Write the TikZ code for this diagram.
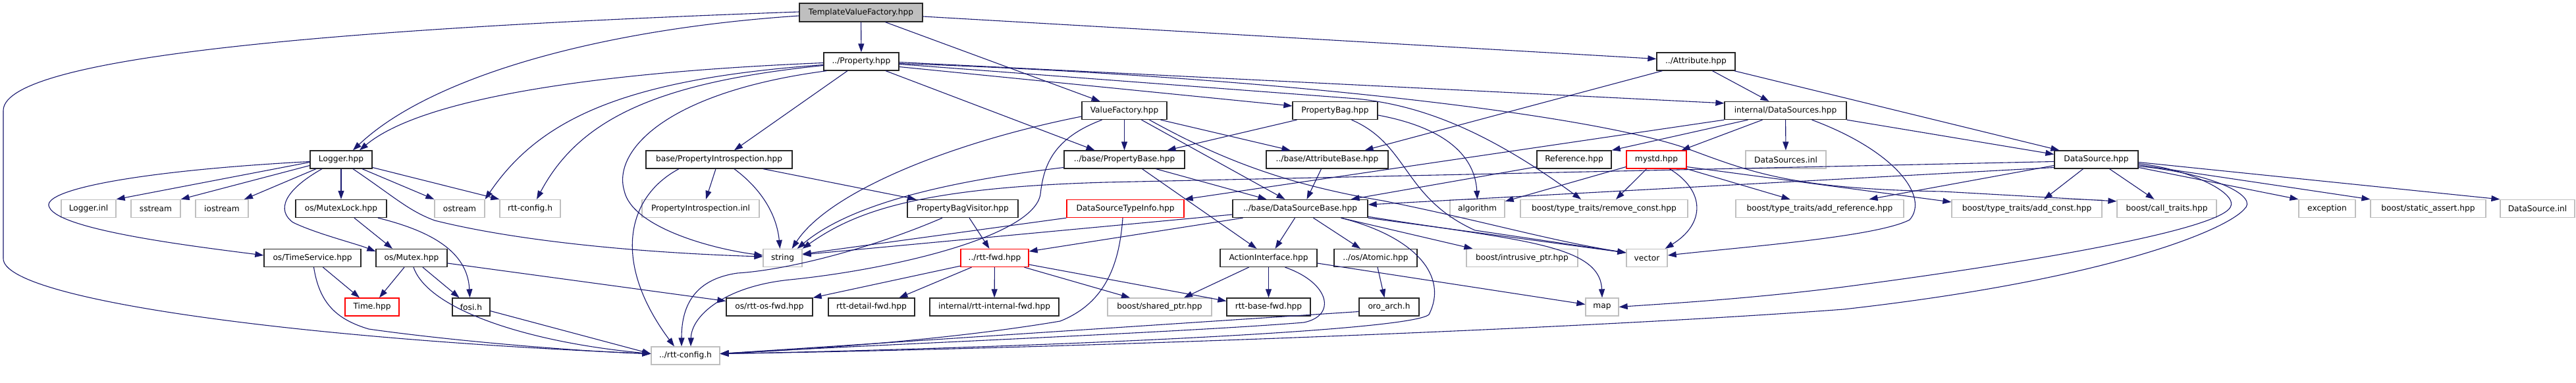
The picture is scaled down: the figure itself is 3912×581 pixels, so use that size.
\documentclass[tikz,border=0pt]{standalone}
\usepackage{fontspec}
\setmainfont{DejaVu Sans}
\usetikzlibrary{arrows.meta}
\definecolor{edgec}{HTML}{191970}
\definecolor{grayb}{HTML}{BFBFBF}
\newcommand{\nb}[6]{\node[#1,minimum width={#4-#3}] (#2) at ({(#3+#4)/2},#5) {#6};}
\begin{document}
\begin{tikzpicture}[x=1pt,y=-1pt,
  nbox/.style={draw=black!85,fill=white,line width=1.3pt,minimum height=27pt,inner sep=0pt,font=\fontsize{12.2}{14}\selectfont},
  xbox/.style={nbox,draw=grayb},
  rbox/.style={nbox,draw=red},
  dep/.style={draw=edgec,line width=1.1pt,-{Triangle[length=13pt,width=9pt]}}]
\useasboundingbox[fill=white] (0,0) rectangle (3912,581);
% row 0-2
\nb{nbox,fill=grayb,minimum height=28pt}{tvf}{1214}{1401}{19}{TemplateValueFactory.hpp}
\nb{nbox}{prop}{1251}{1365}{93.5}{../Property.hpp}
\nb{nbox}{attr}{2516}{2635}{93.5}{../Attribute.hpp}
\nb{nbox}{vf}{1643}{1772}{168}{ValueFactory.hpp}
\nb{nbox}{pbag}{1963}{2092}{168}{PropertyBag.hpp}
\nb{nbox}{dss}{2619}{2804}{168}{internal/DataSources.hpp}
% row 3
\nb{nbox}{logger}{471}{565}{242.5}{Logger.hpp}
\nb{nbox}{pintro}{981}{1203}{242.5}{base/PropertyIntrospection.hpp}
\nb{nbox}{pbase}{1616}{1799}{242.5}{../base/PropertyBase.hpp}
\nb{nbox}{abase}{1923}{2108}{242.5}{../base/AttributeBase.hpp}
\nb{nbox}{ref}{2334}{2447}{242.5}{Reference.hpp}
\nb{rbox}{mystd}{2470}{2561}{242.5}{mystd.hpp}
\nb{xbox}{dsinl}{2651}{2773}{242.5}{DataSources.inl}
\nb{nbox}{ds}{3120}{3247}{242.5}{DataSource.hpp}
% row 4
\nb{xbox}{loginl}{93}{176}{317}{Logger.inl}
\nb{xbox}{sstream}{199}{274}{317}{sstream}
\nb{xbox}{iostream}{297}{377}{317}{iostream}
\nb{nbox}{mlock}{449}{587}{317}{os/MutexLock.hpp}
\nb{xbox}{ostream}{660}{736}{317}{ostream}
\nb{xbox}{rttcfg}{759}{851}{317}{rtt-config.h}
\nb{xbox}{pintroinl}{975}{1153}{317}{PropertyIntrospection.inl}
\nb{nbox}{pbv}{1378}{1546}{317}{PropertyBagVisitor.hpp}
\nb{rbox}{dsti}{1620}{1798}{317}{DataSourceTypeInfo.hpp}
\nb{nbox}{dsb}{1872}{2077}{317}{../base/DataSourceBase.hpp}
\nb{xbox}{algo}{2202}{2285}{317}{algorithm}
\nb{xbox}{remc}{2309}{2563}{317}{boost/type\_traits/remove\_const.hpp}
\nb{xbox}{addref}{2636}{2891}{317}{boost/type\_traits/add\_reference.hpp}
\nb{xbox}{addc}{2964}{3192}{317}{boost/type\_traits/add\_const.hpp}
\nb{xbox}{callt}{3215}{3366}{317}{boost/call\_traits.hpp}
\nb{xbox}{exc}{3491}{3577}{317}{exception}
\nb{xbox}{sassert}{3600}{3775}{317}{boost/static\_assert.hpp}
\nb{xbox}{dsinlb}{3797}{3910}{317}{DataSource.inl}
% row 5
\nb{nbox}{tserv}{401}{548}{392}{os/TimeService.hpp}
\nb{nbox}{mutex}{571}{679}{392}{os/Mutex.hpp}
\nb{xbox}{string}{1159}{1218}{392}{string}
\nb{rbox}{rttfwd}{1459}{1562}{392}{../rtt-fwd.hpp}
\nb{nbox}{action}{1853}{2000}{392}{ActionInterface.hpp}
\nb{nbox}{atomic}{2026}{2152}{392}{../os/Atomic.hpp}
\nb{xbox}{iptr}{2227}{2396}{392}{boost/intrusive\_ptr.hpp}
\nb{xbox}{vector}{2470}{2532}{392}{vector}
% row 6
\nb{rbox}{time}{524}{606}{466.5}{Time.hpp}
\nb{nbox}{fosi}{687}{744}{466.5}{fosi.h}
\nb{nbox}{osfwd}{1103}{1234}{466.5}{os/rtt-os-fwd.hpp}
\nb{nbox}{detfwd}{1258}{1389}{466.5}{rtt-detail-fwd.hpp}
\nb{nbox}{intfwd}{1412}{1608}{466.5}{internal/rtt-internal-fwd.hpp}
\nb{xbox}{shptr}{1682}{1840}{466.5}{boost/shared\_ptr.hpp}
\nb{nbox}{basefwd}{1863}{1990}{466.5}{rtt-base-fwd.hpp}
\nb{nbox}{oroarch}{2064}{2155}{466.5}{oro\_arch.h}
\nb{xbox}{map}{2408}{2458}{466.5}{map}
% row 7
\nb{xbox}{cfg}{989}{1093}{540.5}{../rtt-config.h}

% ---- TemplateValueFactory
\draw[dep] (tvf) -- (prop);
\draw[dep] ([xshift=37pt]tvf.south) -- ([xshift=-37pt]vf.north);
\draw[dep] ([yshift=-6pt]tvf.east) -- ([yshift=4pt]attr.west);
\draw[dep] ([yshift=-5pt]tvf.west) .. controls (900,45) and (650,120) .. ([xshift=18pt]logger.north);
\draw[dep] ([yshift=1pt]tvf.west) .. controls (600,40) and (5,80) .. (5,168) -- (5,393) .. controls (5,455) and (450,515) .. ([yshift=3pt]cfg.west);
% ---- Property
\draw[dep] ([yshift=-2pt]prop.west) .. controls (900,110) and (640,150) .. ([xshift=28pt]logger.north);
\draw[dep] ([yshift=-5pt]prop.west) .. controls (950,120) and (820,180) .. (ostream.north east);
\draw[dep] ([yshift=-6pt]prop.west) .. controls (1000,125) and (880,180) .. ([xshift=10pt]rttcfg.north);
\draw[dep] ([xshift=5pt]prop.south west) .. controls (1010,140) and (930,230) .. (948,290) .. controls (960,345) and (1080,378) .. ([yshift=4pt]string.west);
\draw[dep] ([xshift=-21pt]prop.south) -- ([xshift=23pt]pintro.north);
\draw[dep] ([xshift=37pt]prop.south) -- ([xshift=-45pt]pbase.north);
\draw[dep] ([yshift=-8pt]prop.east) -- ([yshift=7pt]pbag.west);
\draw[dep] ([yshift=-1pt]prop.east) -- ([yshift=-3pt]dss.north west);
\draw[dep] ([yshift=-4pt]prop.east) -- (2060,150) .. controls (2160,160) and (2260,200) .. ([xshift=-35pt]remc.north);
\draw[dep] ([yshift=-3pt]prop.east) .. controls (1900,115) and (2400,170) .. (2560,225) .. controls (2660,262) and (2720,287) .. (2950,291) -- ([yshift=-3pt]callt.north west);
% ---- ValueFactory
\draw[dep] (vf) -- (pbase);
\draw[dep] ([xshift=55pt]vf.south) -- ([xshift=-56pt]abase.north);
\draw[dep] ([xshift=26pt]vf.south) -- ([xshift=-23pt]dsb.north);
\draw[dep] ([yshift=-9pt]vf.west) .. controls (1450,215) and (1260,290) .. ([xshift=-16pt]string.north east);
\draw[dep] ([xshift=38pt]vf.south) .. controls (1850,240) and (1950,280) .. (2100,305) .. controls (2250,335) and (2350,365) .. ([yshift=8pt]vector.west);
\draw[dep] ([xshift=-34pt]vf.south) .. controls (1600,210) and (1585,250) .. (1580,295) .. controls (1570,360) and (1350,410) .. (1200,425) .. controls (1100,435) and (1050,480) .. ([xshift=8pt]cfg.north);
% ---- PropertyBag
\draw[dep] ([xshift=-58pt]pbag.south) -- ([xshift=65pt]pbase.north);
\draw[dep] ([yshift=-7pt]pbag.east) .. controls (2200,195) and (2240,240) .. (algo.north);
\draw[dep] ([xshift=25pt]pbag.south) .. controls (2140,220) and (2130,300) .. (2240,350) -- ([yshift=8pt]vector.west);
% ---- Attribute
\draw[dep] ([xshift=-51pt]attr.south) -- ([xshift=57pt]abase.north);
\draw[dep] ([xshift=25pt]attr.south) -- ([xshift=-25pt]dss.north);
\draw[dep] ([xshift=-2pt]attr.south east) -- ([xshift=8pt]ds.north west);
% ---- internal/DataSources
\draw[dep] (dss) -- (dsinl);
\draw[dep] ([xshift=-35pt]dss.south) -- ([xshift=38pt]mystd.north);
\draw[dep] ([xshift=-57pt]dss.south) -- (ref.north east);
\draw[dep] (dss.south west) -- (dsti.north east);
\draw[dep] ([xshift=40pt]dss.south) .. controls (2880,230) and (2930,300) .. (2900,334) .. controls (2850,360) and (2650,375) .. ([yshift=4pt]vector.east);
\draw[dep] (dss.south east) -- ([yshift=8pt]ds.west);
% ---- Reference, mystd
\draw[dep] ([yshift=-11pt]ref.west) -- ([xshift=77pt]dsb.north);
\draw[dep] ([yshift=-11pt]mystd.west) -- ([yshift=11pt]algo.east);
\draw[dep] ([xshift=-15pt]mystd.south) -- ([xshift=18pt]remc.north);
\draw[dep] ([xshift=20pt]mystd.south) .. controls (2590,290) and (2590,340) .. ([xshift=-4pt]vector.north east);
\draw[dep] (mystd.south east) -- ([xshift=-45pt]addref.north);
\draw[dep] ([yshift=-11pt]mystd.east) -- ([yshift=10pt]addc.west);
% ---- DataSource
\draw[dep] ([yshift=-12pt]ds.west) -- ([yshift=6pt]dsb.east);
\draw[dep] ([yshift=-3pt]ds.west) -- (1680,277) .. controls (1400,285) and (1300,320) .. (string.north east);
\draw[dep] ([yshift=-9pt]ds.west) -- ([xshift=75pt]addref.north);
\draw[dep] ([xshift=-20pt]ds.south) -- ([xshift=26pt]addc.north);
\draw[dep] ([xshift=20pt]ds.south) -- ([xshift=-19pt]callt.north);
\draw[dep] ([yshift=-12pt]ds.east) -- (exc.north west);
\draw[dep] ([yshift=-8pt]ds.east) -- (sassert.north west);
\draw[dep] ([yshift=-4pt]ds.east) -- (dsinlb.north west);
\draw[dep] ([yshift=-6pt]ds.east) .. controls (3330,258) and (3400,295) .. (3387,315) .. controls (3370,345) and (3150,390) .. (2800,436) .. controls (2650,455) and (2520,462) .. (map.east);
\draw[dep] ([yshift=-10pt]ds.east) .. controls (3370,265) and (3430,300) .. (3408,318) .. controls (3380,350) and (3200,425) .. (2800,470) .. controls (2400,500) and (1600,530) .. ([yshift=3pt]cfg.east);
% ---- DataSourceBase
\draw[dep] ([yshift=-9pt]dsb.west) -- ([yshift=5pt]string.east);
\draw[dep] ([xshift=-87pt]dsb.south) -- ([yshift=10pt]rttfwd.east);
\draw[dep] ([xshift=-8pt]dsb.south) -- ([xshift=10pt]action.north);
\draw[dep] ([xshift=20pt]dsb.south) -- ([xshift=-23pt]atomic.north);
\draw[dep] ([xshift=62pt]dsb.south) -- ([xshift=10pt]iptr.north west);
\draw[dep] (dsb.south east) -- ([yshift=8pt]vector.west);
\draw[dep] ([yshift=2pt]dsb.south east) .. controls (2300,365) and (2430,370) .. (map.north);
\draw[dep] ([xshift=62pt]dsb.south) .. controls (2150,360) and (2200,420) .. (2170,478) .. controls (2140,505) and (1500,530) .. ([yshift=3pt]cfg.east);
% ---- PropertyBase, AttributeBase, DataSourceTypeInfo
\draw[dep] ([yshift=-12pt]pbase.west) .. controls (1400,280) and (1280,320) .. ([xshift=-8pt]string.north east);
\draw[dep] ([xshift=48pt]pbase.south) -- ([xshift=-51pt]dsb.north);
\draw[dep] ([xshift=27pt]pbase.south) -- ([xshift=-18pt]action.north);
\draw[dep] ([xshift=-9pt]abase.south) -- ([xshift=10pt]dsb.north);
\draw[dep] (dsti.south west) -- ([yshift=6pt]string.east);
\draw[dep] ([xshift=-4pt]dsti.south) .. controls (1700,400) and (1680,460) .. (1610,488) .. controls (1450,515) and (1250,530) .. ([yshift=3pt]cfg.east);
% ---- ActionInterface, Atomic, oro_arch
\draw[dep] ([xshift=-30pt]action.south) -- ([xshift=37pt]shptr.north);
\draw[dep] (action) -- (basefwd);
\draw[dep] ([xshift=25pt]action.south) .. controls (2020,430) and (2030,480) .. (1980,490) .. controls (1800,505) and (1300,525) .. ([yshift=3pt]cfg.east);
\draw[dep] ([yshift=-8pt]action.east) -- ([yshift=4pt]map.west);
\draw[dep] ([xshift=3pt]atomic.south) -- ([xshift=-7pt]oroarch.north);
\draw[dep] ([yshift=-7pt]oroarch.west) -- ([yshift=3pt]cfg.east);
% ---- rtt-fwd, PropertyBagVisitor, PropertyIntrospection
\draw[dep] ([yshift=2pt]rttfwd.south west) -- (osfwd.north east);
\draw[dep] ([xshift=-35pt]rttfwd.south) -- ([xshift=42pt]detfwd.north);
\draw[dep] (rttfwd) -- (intfwd);
\draw[dep] ([xshift=45pt]rttfwd.south) -- ([xshift=-45pt]shptr.north);
\draw[dep] ([yshift=-10pt]rttfwd.east) -- ([yshift=9pt]basefwd.west);
\draw[dep] ([xshift=10pt]pbv.south) -- ([xshift=-8pt]rttfwd.north);
\draw[dep] ([xshift=-31pt]pbv.south) .. controls (1330,375) and (1200,410) .. (1120,415) .. controls (1050,425) and (1035,470) .. ([xshift=-6pt]cfg.north);
\draw[dep] ([xshift=-5pt]pintro.south) -- ([xshift=8pt]pintroinl.north);
\draw[dep] ([xshift=23pt]pintro.south) .. controls (1160,290) and (1180,330) .. ([xshift=-4pt]string.north);
\draw[dep] ([xshift=67pt]pintro.south) -- ([xshift=-71pt]pbv.north);
\draw[dep] ([xshift=-61pt]pintro.south) .. controls (950,300) and (930,400) .. ([xshift=-17pt]cfg.north);
% ---- os
\draw[dep] ([xshift=17pt]mutex.south) -- ([xshift=-18pt]fosi.north);
\draw[dep] ([xshift=-11pt]mutex.south) -- ([xshift=11pt]time.north);
\draw[dep] ([xshift=3pt]mutex.south) .. controls (650,470) and (800,520) .. ([yshift=3pt]cfg.west);
\draw[dep] ([yshift=-8pt]mutex.east) -- ([yshift=9pt]osfwd.west);
\draw[dep] ([xshift=20pt]mlock.south) -- ([xshift=-29pt]mutex.north);
\draw[dep] ([xshift=56pt]mlock.south) .. controls (650,350) and (710,380) .. ([xshift=-2pt]fosi.north);
\draw[dep] ([xshift=16pt]tserv.south) -- ([xshift=-19pt]time.north);
\draw[dep] ([xshift=2pt]tserv.south) .. controls (485,460) and (510,485) .. (560,500) .. controls (700,520) and (900,535) .. ([yshift=3pt]cfg.west);
\draw[dep] ([yshift=-6pt]fosi.east) -- ([yshift=3pt]cfg.west);
% ---- Logger
\draw[dep] ([yshift=-4pt]logger.west) -- (loginl.north east);
\draw[dep] ([yshift=-9pt]logger.west) -- (sstream.north east);
\draw[dep] ([xshift=-38pt]logger.south) -- ([xshift=34pt]iostream.north);
\draw[dep] (logger) -- (mlock);
\draw[dep] ([yshift=-3pt]logger.west) .. controls (200,260) and (60,290) .. (75,315) .. controls (90,350) and (300,375) .. ([yshift=4pt]tserv.west);
\draw[dep] ([xshift=-29pt]logger.south) .. controls (430,290) and (420,320) .. (445,338) .. controls (480,355) and (540,370) .. ([yshift=10pt]mutex.west);
\draw[dep] ([xshift=18pt]logger.south) .. controls (600,300) and (620,320) .. (660,335) .. controls (800,370) and (1000,385) .. ([yshift=2pt]string.west);
\draw[dep] ([xshift=32pt]logger.south) -- (ostream.north west);
\draw[dep] ([yshift=-12pt]logger.east) -- (rttcfg.north west);
\end{tikzpicture}
\end{document}
